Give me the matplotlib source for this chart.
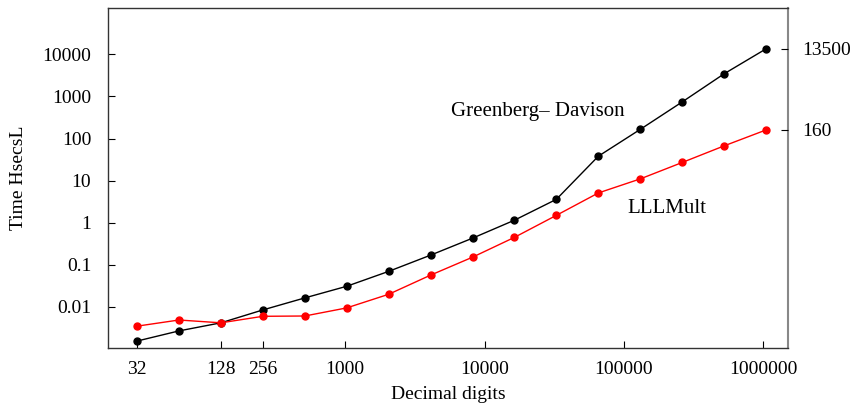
import numpy as np
import matplotlib
matplotlib.use("Agg")
import matplotlib.pyplot as plt
from matplotlib.ticker import FixedLocator, NullLocator, FixedFormatter

plt.rcParams["font.family"] = ["Liberation Serif", "DejaVu Serif"]

digits = [32, 64, 128, 256, 512, 1024, 2048, 4096, 8192, 16384, 32768,
          65536, 131072, 262144, 524288, 1048576]
greenberg = [0.00155, 0.0027, 0.0042, 0.0085, 0.0164, 0.031, 0.070, 0.17,
             0.43, 1.15, 3.6, 38, 165, 740, 3450, 13500]
lllmult = [0.0035, 0.0049, 0.0042, 0.0060, 0.0061, 0.0095, 0.020, 0.057,
           0.152, 0.45, 1.5, 5.1, 11, 27, 67, 160]

xticks = [32, 128, 256, 1000, 10000, 100000, 1000000]
xticklabels = ["32", "128", "256", "1000", "10000", "100000", "1000000"]
yticks = [0.01, 0.1, 1, 10, 100, 1000, 10000]
yticklabels = ["0.01", "0.1", "1", "10", "100", "1000", "10000"]
rticks = [13500, 160]
rticklabels = ["13500", "160"]

FS = 14

fig = plt.figure(figsize=(8.56, 4.08), dpi=100)
ax = fig.add_axes([108 / 856, 1 - 348 / 408, 680 / 856, 340 / 408])

ax.plot(digits, greenberg, "-o", color="black", lw=1, ms=5, clip_on=False)
ax.plot(digits, lllmult, "-o", color="#ff0000", lw=1, ms=5, clip_on=False)

ax.set_xscale("log")
ax.set_yscale("log")
ax.set_xlim(19.8, 1.507e6)
ax.set_ylim(0.00106, 1.26e5)

ax.xaxis.set_major_locator(FixedLocator(xticks))
ax.xaxis.set_major_formatter(FixedFormatter(xticklabels))
ax.xaxis.set_minor_locator(NullLocator())
ax.yaxis.set_major_locator(FixedLocator(yticks))
ax.yaxis.set_major_formatter(FixedFormatter(yticklabels))
ax.yaxis.set_minor_locator(NullLocator())
ax.tick_params(direction="in", length=5, width=0.8, labelsize=FS)
ax.tick_params(axis="x", pad=9)
ax.tick_params(axis="y", pad=12)

for s in ["left", "top", "bottom"]:
    ax.spines[s].set_color("#333333")
    ax.spines[s].set_linewidth(1.0)
ax.spines["right"].set_color("#888888")
ax.spines["right"].set_linewidth(1.5)

ax2 = ax.twinx()
ax2.set_yscale("log")
ax2.set_ylim(ax.get_ylim())
ax2.yaxis.set_major_locator(FixedLocator(rticks))
ax2.yaxis.set_major_formatter(FixedFormatter(rticklabels))
ax2.yaxis.set_minor_locator(NullLocator())
ax2.tick_params(direction="in", length=5, width=0.8, labelsize=FS, pad=10)
for s in ax2.spines.values():
    s.set_visible(False)

ax.set_xlabel("Decimal digits", fontsize=FS, labelpad=6)
ax.set_ylabel("Time HsecsL", fontsize=FS, labelpad=11)

ax.text(0.632, 0.696, "Greenberg\u2013 Davison", transform=ax.transAxes,
        fontsize=15, ha="center", va="center")
ax.text(0.822, 0.41, "LLLMult", transform=ax.transAxes,
        fontsize=15, ha="center", va="center")

fig.savefig("out.png", dpi=100)
